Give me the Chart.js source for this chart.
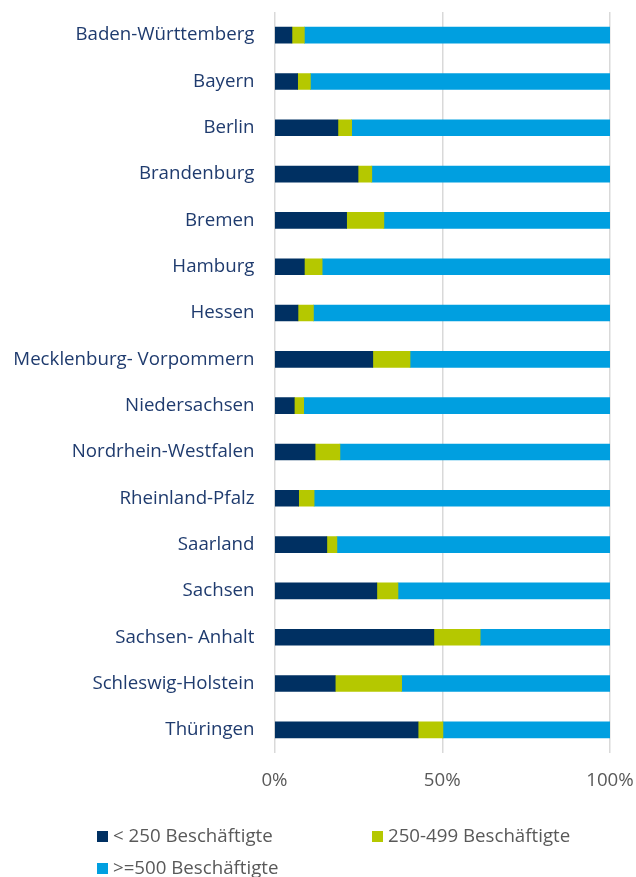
<!DOCTYPE html>
<html>
<head>
<meta charset="utf-8">
<script src="https://cdn.jsdelivr.net/npm/chart.js@4"></script>
<style>
  body { margin: 0; background: #fff; }
  #wrap { position: relative; width: 636px; height: 877px; }
  #legend { position: absolute; left: 0; top: 0; width: 636px; height: 877px; pointer-events: none;
            font-family: "Open Sans", sans-serif; font-size: 18.7px; color: #595959; }
  .item { position: absolute; white-space: nowrap; line-height: 22px; }
  .box { display: inline-block; width: 11px; height: 11px; margin-right: 5px; vertical-align: 0px; }
</style>
</head>
<body>
<div id="wrap">
  <canvas id="laender" width="636" height="877"></canvas>
  <div id="legend"></div>
</div>
<script>
// Anteile je Bundesland in %
const laender = ['Baden-Württemberg', 'Bayern', 'Berlin', 'Brandenburg', 'Bremen', 'Hamburg', 'Hessen',
  'Mecklenburg- Vorpommern', 'Niedersachsen', 'Nordrhein-Westfalen', 'Rheinland-Pfalz', 'Saarland',
  'Sachsen', 'Sachsen- Anhalt', 'Schleswig-Holstein', 'Thüringen']

const klein = [5.2, 6.9, 18.9, 24.9, 21.5, 8.9, 7.0, 29.3, 5.9, 12.1, 7.2, 15.6, 30.5, 47.5, 18.1, 42.8]
const mittel = [3.7, 3.8, 4.1, 4.1, 11.1, 5.3, 4.6, 11.1, 2.8, 7.4, 4.6, 3.0, 6.3, 13.8, 19.8, 7.4]
const gross = [91.1, 89.3, 77.0, 71.0, 67.4, 85.8, 88.4, 59.6, 91.3, 80.5, 88.2, 81.4, 63.2, 38.7, 62.1, 49.8]

const xTicks = [0, 50, 100]

const reihen = [
  { label: '< 250 Beschäftigte', data: klein, color: '#003062' },
  { label: '250-499 Beschäftigte', data: mittel, color: '#B5C800' },
  { label: '>=500 Beschäftigte', data: gross, color: '#009FE0' }
]

const schrift = { family: 'Open Sans', size: 18.7 }

const ctx = document.querySelector('#laender')
const chart = new Chart(ctx, {
  type: 'bar',
  data: {
    labels: laender,
    datasets: reihen.map(r => ({
      label: r.label,
      data: r.data,
      backgroundColor: r.color,
      borderWidth: 0,
      barThickness: 16
    }))
  },
  options: {
    indexAxis: 'y',
    responsive: false,
    animation: false,
    layout: { padding: { top: 12, right: 26, bottom: 84, left: 0 } },
    plugins: { legend: { display: false }, tooltip: { enabled: false } },
    scales: {
      x: {
        stacked: true,
        min: 0,
        max: 100,
        afterBuildTicks: s => { s.ticks = xTicks.map(v => ({ value: v })) },
        afterFit: s => { s.height = 40; s.paddingLeft = 0; s.paddingRight = 0 },
        grid: { color: '#D9D9D9', lineWidth: 1.5, drawTicks: false },
        border: { display: false },
        ticks: {
          padding: 16,
          color: '#595959',
          font: schrift,
          callback: v => v + '%'
        }
      },
      y: {
        stacked: true,
        afterFit: s => { s.width = 274.5; s.paddingTop = 0; s.paddingBottom = 0 },
        grid: { display: false, drawTicks: false },
        border: { display: false },
        ticks: {
          padding: 20,
          color: '#1F3B6E',
          font: schrift
        }
      }
    }
  }
})

// Legende wie im Original in zwei Spalten
const legendPos = [[97, 824], [372, 824], [97, 856]]
const legend = document.querySelector('#legend')
reihen.forEach((r, i) => {
  const div = document.createElement('div')
  div.className = 'item'
  div.style.left = legendPos[i][0] + 'px'
  div.style.top = legendPos[i][1] + 'px'
  div.innerHTML = '<span class="box" style="background:' + r.color + '"></span>'
  div.appendChild(document.createTextNode(r.label))
  legend.appendChild(div)
})
</script>
</body>
</html>
